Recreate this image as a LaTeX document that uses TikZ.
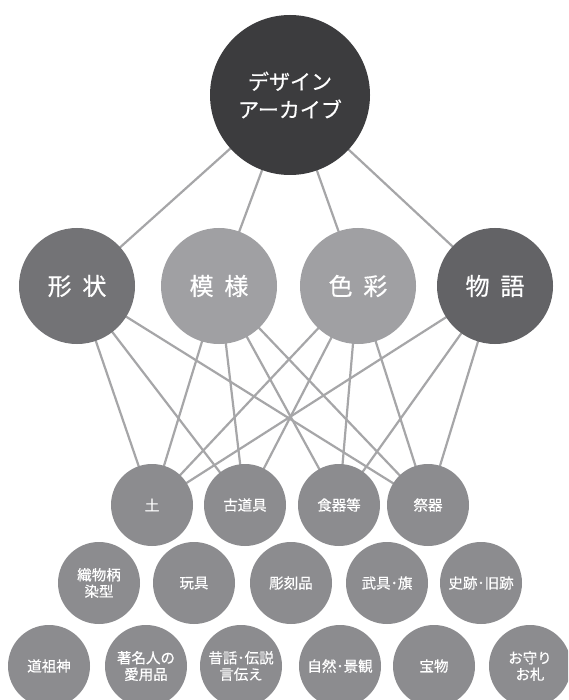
\documentclass[tikz,border=0pt]{standalone}
\usepackage{fontspec}
\setmainfont{Noto Sans CJK JP}[FakeBold=0.5]
\usetikzlibrary{backgrounds}
\definecolor{topc}{HTML}{3C3C3E}
\definecolor{shapec}{HTML}{737376}
\definecolor{lightc}{HTML}{A0A0A3}
\definecolor{storyc}{HTML}{636366}
\definecolor{smallc}{HTML}{8C8C8F}
\definecolor{linec}{HTML}{A6A6A8}
\tikzset{
  ball/.style={circle, inner sep=0pt, text=white, align=center},
  topball/.style={ball, minimum size=160pt, fill=topc, font=\fontsize{21}{28}\selectfont},
  midball/.style={ball, minimum size=116pt, font=\fontsize{24}{28}\selectfont},
  smallball/.style={ball, minimum size=82pt, fill=smallc, font=\fontsize{14.5}{16.5}\selectfont},
  link/.style={draw=linec, line width=2.2pt}
}
\begin{document}
\begin{tikzpicture}[x=1pt,y=-1pt]
\useasboundingbox (0,0) rectangle (568,700);
\clip (0,0) rectangle (568,700);
% nodes
\node[topball] (top) at (290,95) {デザイン\\アーカイブ};
\node[midball, fill=shapec] (kei) at (77,286) {形\hspace{0.45em}状};
\node[midball, fill=lightc] (moy) at (219,286) {模\hspace{0.45em}様};
\node[midball, fill=lightc] (iro) at (358,286) {色\hspace{0.45em}彩};
\node[midball, fill=storyc] (mon) at (495,286) {物\hspace{0.45em}語};
\node[smallball] (tsuchi) at (152,505) {土};
\node[smallball] (kodogu) at (245,505) {古道具};
\node[smallball] (shokki) at (339,505) {食器等};
\node[smallball] (saiki) at (428,505) {祭器};
\node[smallball] (orimono) at (99,583) {織物柄\\染型};
\node[smallball] (gangu) at (194,583) {玩具};
\node[smallball] (chokoku) at (291,583) {彫刻品};
\node[smallball] (bugu) at (387,583) {武具･旗};
\node[smallball] (shiseki) at (481,583) {史跡･旧跡};
\node[smallball] (dosojin) at (49,666) {道祖神};
\node[smallball] (chomei) at (146,666) {著名人の\\愛用品};
\node[smallball] (mukashi) at (241,666) {昔話･伝説\\言伝え};
\node[smallball] (shizen) at (340,666) {自然･景観};
\node[smallball] (homotsu) at (434,666) {宝物};
\node[smallball] (omamori) at (530,666) {お守り\\お札};
% connectors
\begin{scope}[on background layer]
\fill[white] (0,0) rectangle (568,700);
\foreach \m in {kei,moy,iro,mon} \draw[link] (top.center) -- (\m.center);
\foreach \b in {tsuchi,kodogu,saiki} \draw[link] (kei.center) -- (\b.center);
\foreach \b in {tsuchi,kodogu,shokki,saiki} \draw[link] (moy.center) -- (\b.center);
\foreach \b in {tsuchi,kodogu,shokki,saiki} \draw[link] (iro.center) -- (\b.center);
\foreach \b in {tsuchi,shokki,saiki} \draw[link] (mon.center) -- (\b.center);
\end{scope}
\end{tikzpicture}
\end{document}
